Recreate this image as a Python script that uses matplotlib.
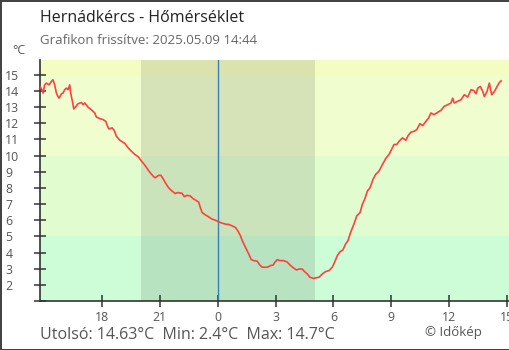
import matplotlib
matplotlib.use("Agg")
import matplotlib.pyplot as plt

plt.rcParams['font.family'] = ['Open Sans', 'DejaVu Sans']

STATION = "Hernádkércs"
UPDATED = "2025.05.09 14:44"

# hours relative to midnight (negative = previous day)
hours = [
    -9.23, -9.11, -9.05, -8.97, -8.88, -8.74, -8.62, -8.54, -8.45, -8.36,
    -8.28, -8.22, -8.10, -8.02, -7.93, -7.84, -7.76, -7.67, -7.62, -7.53,
    -7.46, -7.38, -7.24, -7.06, -6.98, -6.89, -6.72, -6.55, -6.37, -6.29,
    -6.11, -5.94, -5.80, -5.71, -5.64, -5.47, -5.37, -5.25, -5.07, -4.81,
    -4.64, -4.47, -4.29, -4.12, -3.95, -3.77, -3.50, -3.32, -3.24, -3.06,
    -2.94, -2.81, -2.72, -2.55, -2.37, -2.20, -2.08, -1.85, -1.73, -1.59,
    -1.42, -1.28, -1.07, -0.99, -0.90, -0.81, -0.64, -0.47, -0.29, -0.12,
    0.05, 0.23, 0.40, 0.57, 0.75, 0.92, 1.04, 1.18, 1.27, 1.44,
    1.61, 1.74, 1.87, 2.05, 2.18, 2.31, 2.57, 2.74, 2.88, 2.96,
    3.09, 3.22, 3.43, 3.61, 3.78, 3.95, 4.09, 4.21, 4.38, 4.50,
    4.64, 4.78, 4.96, 5.08, 5.25, 5.43, 5.59, 5.77, 5.94, 6.06,
    6.20, 6.34, 6.49, 6.63, 6.75, 6.89, 7.06, 7.21, 7.38, 7.50,
    7.62, 7.76, 7.90, 8.05, 8.19, 8.36, 8.54, 8.71, 8.88, 9.01,
    9.14, 9.28, 9.40, 9.58, 9.75, 9.87, 10.01, 10.18, 10.32, 10.48,
    10.62, 10.79, 10.93, 11.05, 11.22, 11.40, 11.57, 11.74, 11.92, 12.09,
    12.18, 12.26, 12.44, 12.61, 12.78, 12.96, 13.13, 13.27, 13.39, 13.48,
    13.61, 13.74, 13.82, 13.96, 14.08, 14.20, 14.34, 14.48, 14.60, 14.69,
]
temps = [
    14.32, 14.08, 13.87, 14.38, 14.49, 14.38, 14.59, 14.70, 14.38, 13.87,
    13.66, 13.56, 13.83, 13.87, 14.08, 14.18, 14.08, 14.38, 13.87, 13.36,
    12.89, 13.00, 13.21, 13.29, 13.15, 13.26, 13.00, 12.84, 12.64, 12.39,
    12.29, 12.23, 12.12, 11.82, 11.65, 11.72, 11.57, 11.20, 10.95, 10.75,
    10.48, 10.27, 10.07, 9.93, 9.66, 9.40, 8.94, 8.70, 8.63, 8.78,
    8.78, 8.53, 8.33, 8.02, 7.81, 7.65, 7.71, 7.67, 7.46, 7.54,
    7.50, 7.34, 7.19, 7.13, 6.79, 6.48, 6.33, 6.21, 6.07, 6.00,
    5.90, 5.82, 5.76, 5.74, 5.65, 5.55, 5.35, 5.04, 4.75, 4.32,
    3.91, 3.56, 3.50, 3.46, 3.23, 3.09, 3.09, 3.19, 3.23, 3.40,
    3.56, 3.50, 3.50, 3.40, 3.19, 3.03, 2.92, 2.98, 2.98, 2.82,
    2.68, 2.47, 2.40, 2.43, 2.47, 2.68, 2.82, 2.88, 3.09, 3.40,
    3.81, 4.05, 4.16, 4.53, 4.73, 5.25, 5.76, 6.27, 6.48, 6.99,
    7.30, 7.81, 8.02, 8.53, 8.84, 9.04, 9.45, 9.82, 10.07, 10.38,
    10.69, 10.69, 10.89, 11.10, 10.95, 11.24, 11.45, 11.51, 11.61, 11.98,
    11.86, 12.12, 12.33, 12.64, 12.54, 12.68, 12.80, 13.05, 13.15, 13.26,
    13.56, 13.26, 13.36, 13.46, 13.77, 13.63, 14.08, 14.03, 13.83, 14.18,
    14.28, 13.97, 13.66, 13.97, 14.49, 13.77, 13.97, 14.28, 14.53, 14.63,
]

sunset = -3.97   # 20:02
sunrise = 5.02   # 05:01

xticks = [-6, -3, 0, 3, 6, 9, 12, 15]
xticklabels = ["18", "21", "0", "3", "6", "9", "12", "15"]
yticks = list(range(1, 16))
yticklabels = [""] + [str(v) for v in range(2, 16)]

x_min, x_max = -9.21, 15.15
y_min, y_max = 1.0, 15.92

# temperature bands: (low, high, colour)
bands = [
    (y_min, 5, "#ccfdd6"),
    (5, 10, "#e1fdd0"),
    (10, 15, "#effdcf"),
    (15, y_max, "#f5fcc2"),
]

fig = plt.figure(figsize=(5.1, 3.5), dpi=100, linewidth=2, edgecolor="#444444")
ax = fig.add_axes([40 / 510, 1 - 301 / 350, 470 / 510, 241 / 350])

for lo, hi, col in bands:
    ax.axhspan(lo, hi, color=col, lw=0, zorder=0)
ax.axvspan(sunset, sunrise, color="black", alpha=0.1, lw=0, zorder=1)
ax.axvline(0, color="#3a80b8", lw=1, zorder=2)

ax.plot(hours, temps, color="#ff4040", lw=1.2, zorder=3)

ax.set_xlim(x_min, x_max)
ax.set_ylim(y_min, y_max)
ax.set_xticks(xticks)
ax.set_xticklabels(xticklabels)
ax.set_yticks(yticks)
ax.set_yticklabels(yticklabels, ha="left")

for side in ["top", "right"]:
    ax.spines[side].set_visible(False)
for side in ["left", "bottom"]:
    ax.spines[side].set_color("#333333")
    ax.spines[side].set_linewidth(1.2)

ax.tick_params(axis="both", direction="inout", length=8, width=1.1, color="#333333",
               labelcolor="#555555", labelsize=8.8)
ax.tick_params(axis="x", pad=3)
ax.tick_params(axis="y", pad=21)

fig.text(40 / 510, 1 - 18 / 350, f"{STATION} - Hőmérséklet", fontsize=11.5,
         color="#222222", va="center", ha="left")
fig.text(40 / 510, 1 - 40 / 350, f"Grafikon frissítve: {UPDATED}", fontsize=9.5,
         color="#666666", va="center", ha="left")
fig.text(12 / 510, 1 - 51 / 350, "°C", fontsize=9, color="#555555", va="center", ha="left")

footer = (f"Utolsó: {temps[-1]:.2f}°C  Min: {min(temps):.1f}°C  "
          f"Max: {max(temps):.1f}°C")
fig.text(40 / 510, 1 - 339 / 350, footer, fontsize=11.5, color="#555555",
         va="baseline", ha="left")
fig.text(425 / 510, 1 - 336 / 350, "© Időkép", fontsize=9.5, color="#555555",
         va="baseline", ha="left")

fig.savefig("out.png", dpi=100)
